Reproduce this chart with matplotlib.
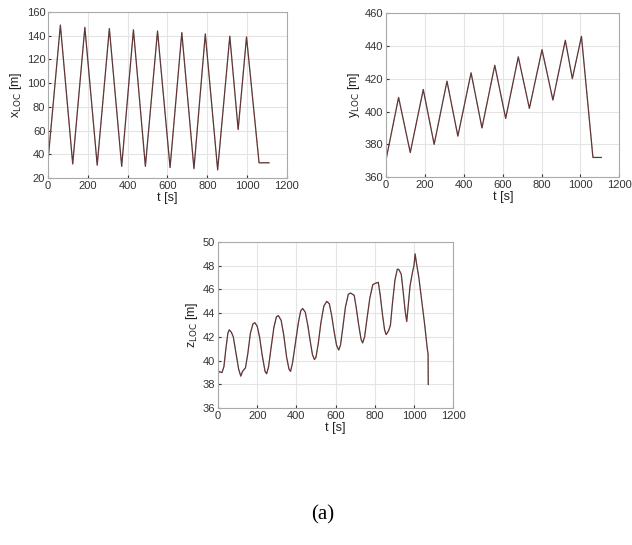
import numpy as np
import matplotlib.pyplot as plt

# x_LOC (triangle-ish path)
t_x = [0, 62, 124, 185, 247, 308, 370, 429, 489, 550, 613, 672, 733, 790, 852, 913, 955, 997, 1060, 1110]
x_loc = [35, 149, 32, 147, 31, 146, 30, 145, 30, 144, 29, 142.6, 28, 141.5, 27, 139.6, 61, 139, 33, 33]

# y_LOC
t_y = [0, 64, 124, 191, 247, 313, 369, 437, 493, 559, 615, 680, 737, 802, 858, 922, 958, 1005, 1064, 1107]
y_loc = [371, 408.6, 375, 413.4, 380, 418.5, 385, 423.6, 390, 428.2, 395.8, 433.3, 401.9, 437.7, 407, 443.4, 420, 445.8, 372, 372]

# z_LOC
t_z = [0, 3, 20, 30, 40, 50, 57, 68, 78, 90, 105, 116, 125, 140, 152, 165, 178, 188,
       200, 212, 225, 240, 248, 258, 270, 285, 298, 308, 322, 335, 350, 362, 370, 380,
       395, 410, 422, 432, 445, 458, 470, 482, 492, 500, 512, 525, 540, 555, 568, 580,
       592, 605, 616, 625, 637, 650, 665, 677, 695, 705, 718, 730, 738, 748, 760, 775,
       790, 800, 818, 828, 840, 850, 858, 870, 880, 890, 903, 915, 922, 935, 945, 955,
       963, 970, 980, 993, 1000, 1006, 1012, 1025, 1040, 1055, 1068, 1072, 1073]
z_loc = [38.5, 39.1, 39.0, 39.5, 41.0, 42.3, 42.6, 42.4, 42.0, 40.8, 39.3, 38.7, 39.1, 39.4,
         40.6, 42.3, 43.1, 43.2, 42.9, 42.0, 40.5, 39.1, 38.9, 39.5, 41.0, 42.8, 43.7, 43.8,
         43.4, 42.2, 40.3, 39.3, 39.1, 39.8, 41.5, 43.2, 44.2, 44.4, 44.1, 43.0, 41.7, 40.5,
         40.1, 40.3, 41.5, 43.2, 44.6, 45.0, 44.8, 43.8, 42.5, 41.3, 40.9, 41.3, 42.8, 44.5,
         45.6, 45.7, 45.5, 44.5, 43.0, 41.8, 41.5, 42.0, 43.5, 45.3, 46.4, 46.5, 46.6, 45.5,
         43.8, 42.6, 42.2, 42.5, 43.0, 44.8, 46.8, 47.7, 47.7, 47.3, 45.8, 44.2, 43.3, 44.5,
         46.3, 47.5, 48.0, 49.0, 48.3, 47.0, 45.0, 43.0, 41.0, 40.6, 38.0]

plt.rcParams['font.family'] = ['Liberation Sans', 'DejaVu Sans']

fig = plt.figure(figsize=(6.32, 5.45), dpi=100)


def style(ax, ylabel, ylim, yticks, xlabel=True):
    ax.set_xlim(0, 1200)
    ax.set_xticks(np.arange(0, 1201, 200))
    ax.set_ylim(*ylim)
    ax.set_yticks(yticks)
    ax.grid(True, color='#e4e4e4', linewidth=0.8)
    ax.set_axisbelow(True)
    ax.tick_params(direction='in', labelsize=8, colors='#333333', length=2, pad=2)
    for s in ax.spines.values():
        s.set_color('#aaaaaa')
        s.set_linewidth(0.8)
    ax.set_ylabel(ylabel, fontsize=9, color='#222222', labelpad=2)
    if xlabel:
        ax.set_xlabel('t [s]', fontsize=9, color='#222222', labelpad=1)


def draw(ax, t, v):
    ax.plot(t, v, color='#4a3838', linewidth=0.9)
    ax.plot(t, v, color='#b03030', linewidth=0.6, linestyle=(0, (3, 2)), alpha=0.5)


ax1 = fig.add_axes([0.076, 0.673, 0.378, 0.305])
draw(ax1, t_x, x_loc)
style(ax1, r'x$_{\mathrm{LOC}}$ [m]', (20, 160), np.arange(20, 161, 20))

ax2 = fig.add_axes([0.611, 0.675, 0.369, 0.301])
draw(ax2, t_y, y_loc)
style(ax2, r'y$_{\mathrm{LOC}}$ [m]', (360, 460), np.arange(360, 461, 20))

ax3 = fig.add_axes([0.345, 0.251, 0.372, 0.305])
draw(ax3, t_z, z_loc)
style(ax3, r'z$_{\mathrm{LOC}}$ [m]', (36, 50), np.arange(36, 51, 2))

fig.text(0.511, 0.055, '(a)', fontsize=15, ha='center', va='center',
         family=['Liberation Serif', 'DejaVu Serif'])

fig.savefig('out.png', dpi=100)
